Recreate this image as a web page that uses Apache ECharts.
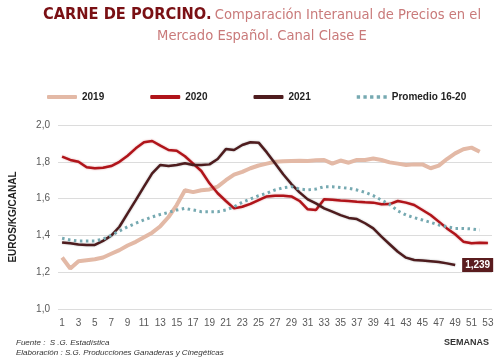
<!DOCTYPE html>
<html>
<head>
<meta charset="utf-8">
<script src="https://cdn.jsdelivr.net/npm/echarts@6/dist/echarts.min.js"></script>
<style>html,body{margin:0;padding:0;background:#fff}#c{width:500px;height:364px}</style>
</head>
<body>
<div id="c"></div>
<script>
var weeks = ['1','2','3','4','5','6','7','8','9','10','11','12','13','14','15','16','17','18','19','20','21','22','23','24','25','26','27','28','29','30','31','32','33','34','35','36','37','38','39','40','41','42','43','44','45','46','47','48','49','50','51','52','53'];
var y2019 = [1.28,1.22,1.26,1.265,1.27,1.28,1.30,1.32,1.345,1.365,1.39,1.415,1.45,1.50,1.565,1.645,1.635,1.645,1.65,1.665,1.70,1.73,1.745,1.765,1.78,1.79,1.80,1.803,1.805,1.806,1.805,1.808,1.81,1.79,1.807,1.795,1.81,1.81,1.818,1.81,1.797,1.79,1.783,1.786,1.786,1.765,1.779,1.815,1.846,1.868,1.877,1.855];
var y2020 = [1.828,1.81,1.80,1.77,1.765,1.768,1.777,1.80,1.833,1.873,1.906,1.913,1.888,1.864,1.86,1.83,1.79,1.75,1.683,1.629,1.587,1.547,1.556,1.571,1.592,1.612,1.616,1.616,1.612,1.587,1.542,1.538,1.596,1.594,1.59,1.587,1.583,1.58,1.578,1.569,1.57,1.587,1.578,1.565,1.538,1.511,1.475,1.438,1.406,1.366,1.357,1.36,1.359];
var y2021 = [1.362,1.357,1.351,1.348,1.348,1.37,1.399,1.447,1.52,1.592,1.665,1.737,1.783,1.777,1.783,1.792,1.783,1.783,1.786,1.815,1.869,1.864,1.891,1.906,1.904,1.851,1.792,1.732,1.679,1.634,1.596,1.574,1.547,1.529,1.51,1.495,1.489,1.466,1.438,1.393,1.352,1.311,1.279,1.266,1.264,1.26,1.255,1.248,1.239];
var yProm = [1.384,1.375,1.37,1.37,1.37,1.38,1.40,1.424,1.447,1.466,1.484,1.50,1.514,1.525,1.538,1.547,1.538,1.529,1.529,1.529,1.538,1.556,1.58,1.598,1.616,1.629,1.647,1.659,1.665,1.652,1.647,1.652,1.665,1.665,1.66,1.656,1.647,1.634,1.616,1.592,1.569,1.533,1.511,1.496,1.484,1.471,1.457,1.447,1.438,1.438,1.435,1.429];
var seriesNames = ['2019','2020','2021','Promedio 16-20'];
var yTicks = [1.0,1.2,1.4,1.6,1.8,2.0];

var chart = echarts.init(document.getElementById('c'), null, {renderer:'canvas'});
var baseFont = 'Liberation Sans, Arial, sans-serif';
var condFont = 'Liberation Sans Narrow, DejaVu Sans Condensed, sans-serif';
var dotsIcon = 'path://M0,0h3v3h-3z M6,0h3v3h-3z M12,0h3v3h-3z M18,0h3v3h-3z M24,0h3v3h-3z';
chart.setOption({
  animation: false,
  backgroundColor: '#ffffff',
  graphic: [
    {type:'text', x:262, y:15, style:{
      text:'{a|CARNE DE PORCINO.} {b|Comparación Interanual de Precios en el}',
      align:'center', verticalAlign:'middle',
      rich:{
        a:{fontFamily:condFont, fontSize:16.3, fontWeight:'bold', fill:'#7a1014', color:'#7a1014'},
        b:{fontFamily:condFont, fontSize:14.6, fill:'#c97a7a', color:'#c97a7a'}
      }
    }},
    {type:'text', x:262, y:36, style:{
      text:'Mercado Español. Canal Clase E', align:'center', verticalAlign:'middle',
      fontFamily:condFont, fontSize:14.6, fill:'#c97a7a'
    }},
    {type:'text', x:16, y:343, style:{text:'Fuente :  S .G. Estadística', fontFamily:baseFont, fontSize:8, fontStyle:'italic', fill:'#333', verticalAlign:'middle'}},
    {type:'text', x:16, y:353, style:{text:'Elaboración : S.G. Producciones Ganaderas y Cinegéticas', fontFamily:baseFont, fontSize:8, fontStyle:'italic', fill:'#333', verticalAlign:'middle'}},
    {type:'text', x:489, y:343, style:{text:'SEMANAS', fontFamily:baseFont, fontSize:9, fontWeight:'bold', fill:'#333', align:'right', verticalAlign:'middle'}}
  ],
  legend: {
    data: [
      {name: seriesNames[0], icon: 'roundRect'},
      {name: seriesNames[1], icon: 'roundRect'},
      {name: seriesNames[2], icon: 'roundRect'},
      {name: seriesNames[3], icon: dotsIcon}
    ],
    left: 42, top: 87,
    itemWidth: 30, itemHeight: 4, itemGap: 46,
    textStyle: {fontFamily: baseFont, fontSize: 10, fontWeight: 'bold', color: '#222'}
  },
  grid: {left: 53, right: 8, top: 125, bottom: 55},
  xAxis: {
    type: 'category', data: weeks, boundaryGap: true,
    axisLine: {show: false}, axisTick: {show: false},
    axisLabel: {interval: 1, color: '#595959', fontFamily: baseFont, fontSize: 10, margin: 9}
  },
  yAxis: {
    type: 'value', min: 1.0, max: 2.0, interval: 0.2,
    name: 'EUROS/KG/CANAL', nameLocation: 'middle', nameGap: 40, nameRotate: 90,
    nameTextStyle: {fontFamily: baseFont, fontSize: 10, fontWeight: 'bold', color: '#222'},
    axisLine: {show: false}, axisTick: {show: false},
    splitLine: {lineStyle: {color: '#dcdcdc', width: 1}},
    axisLabel: {color: '#595959', fontFamily: baseFont, fontSize: 10, margin: 8,
      formatter: function(v){ return v.toFixed(1).replace('.', ','); }}
  },
  series: [
    {name: seriesNames[0], type: 'line', data: y2019, symbol: 'none',
      lineStyle: {color: '#e3b9a6', width: 4}, itemStyle: {color: '#e3b9a6'}},
    {name: seriesNames[1], type: 'line', data: y2020, symbol: 'none',
      lineStyle: {color: '#b0141a', width: 2.5, shadowBlur: 2, shadowColor: 'rgba(176,20,26,0.4)'}, itemStyle: {color: '#b0141a'}},
    {name: seriesNames[2], type: 'line', data: y2021, symbol: 'none',
      lineStyle: {color: '#4e1c1e', width: 2.5, shadowBlur: 2, shadowColor: 'rgba(0,0,0,0.3)'}, itemStyle: {color: '#4e1c1e'},
      endLabel: {show: true, distance: 7, backgroundColor: '#5a1c1e', color: '#fff', fontFamily: baseFont, fontSize: 10, fontWeight: 'bold', padding: [2, 3],
        formatter: function(p){ return Number(p.value).toFixed(3).replace('.', ','); }}},
    {name: seriesNames[3], type: 'line', data: yProm, symbol: 'none',
      lineStyle: {color: '#76a9b1', width: 3, type: [2.5, 3.5], cap: 'butt'}, itemStyle: {color: '#76a9b1'}}
  ]
});
</script>
</body>
</html>
